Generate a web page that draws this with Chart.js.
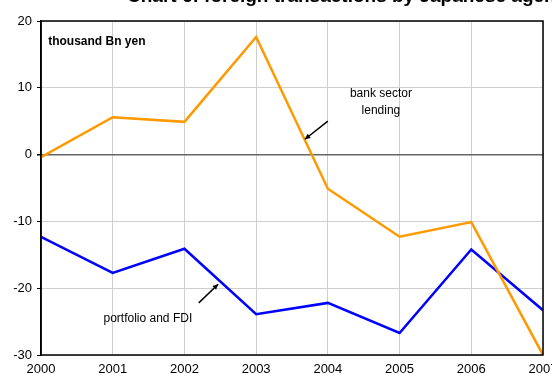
<!DOCTYPE html>
<html>
<head>
<meta charset="utf-8">
<script src="https://cdn.jsdelivr.net/npm/chart.js@4"></script>
<style>
  html, body { margin: 0; padding: 0; background: #fff; overflow: hidden; width: 552px; height: 374px; }
  #wrap { position: absolute; left: 0; top: -14px; width: 580px; height: 400px; }
</style>
</head>
<body>
<div id="wrap"><canvas id="chart"></canvas></div>
<script>
// values, thousand Bn yen
const years = [2000, 2001, 2002, 2003, 2004, 2005, 2006, 2007];
const bankLending = [-0.4, 5.6, 4.9, 17.6, -5.1, -12.3, -10.1, -30.0];
const portfolioFDI = [-12.3, -17.7, -14.1, -23.9, -22.2, -26.7, -14.2, -23.3];
const yTicks = [20, 10, 0, -10, -20, -30];

const FONT = '"Liberation Sans", Arial, sans-serif';

// text notes and arrows, placed in data units
const notes = [
  { text: 'thousand Bn yen', x: 2000.1, y: 16.9, bold: true, align: 'left' },
  { text: 'bank sector', x: 2004.74, y: 9.1, align: 'center' },
  { text: 'lending', x: 2004.74, y: 6.5, align: 'center' },
  { text: 'portfolio and FDI', x: 2001.49, y: -24.5, align: 'center' }
];
const arrows = [
  { from: [2004.0, 5.0], to: [2003.68, 2.3] },
  { from: [2002.2, -22.2], to: [2002.47, -19.4] }
];

const extras = {
  id: 'extras',
  afterDraw(chart) {
    const ctx = chart.ctx;
    const a = chart.chartArea;
    const xs = chart.scales.x, ys = chart.scales.y;
    ctx.save();
    // box round plot area
    ctx.strokeStyle = '#000';
    ctx.lineWidth = 1.5;
    ctx.strokeRect(a.left, a.top, a.right - a.left, a.bottom - a.top);

    // title, cut off at top of page
    ctx.fillStyle = '#000';
    ctx.font = 'bold 19px ' + FONT;
    ctx.textAlign = 'left';
    ctx.textBaseline = 'alphabetic';
    ctx.fillText('Chart 6: foreign transactions by Japanese agents', 127, 15.5);

    ctx.textBaseline = 'middle';
    notes.forEach(n => {
      ctx.font = (n.bold ? 'bold ' : '') + '12px ' + FONT;
      ctx.textAlign = n.align;
      ctx.fillText(n.text, xs.getPixelForValue(n.x), ys.getPixelForValue(n.y));
    });

    ctx.strokeStyle = '#000';
    ctx.lineWidth = 1.5;
    arrows.forEach(ar => {
      const x1 = xs.getPixelForValue(ar.from[0]), y1 = ys.getPixelForValue(ar.from[1]);
      const x2 = xs.getPixelForValue(ar.to[0]), y2 = ys.getPixelForValue(ar.to[1]);
      ctx.beginPath();
      ctx.moveTo(x1, y1);
      ctx.lineTo(x2, y2);
      ctx.stroke();
      const ang = Math.atan2(y2 - y1, x2 - x1);
      ctx.beginPath();
      ctx.moveTo(x2, y2);
      ctx.lineTo(x2 - 6 * Math.cos(ang - 0.45), y2 - 6 * Math.sin(ang - 0.45));
      ctx.lineTo(x2 - 6 * Math.cos(ang + 0.45), y2 - 6 * Math.sin(ang + 0.45));
      ctx.closePath();
      ctx.fillStyle = '#000';
      ctx.fill();
    });
    ctx.restore();
  }
};

new Chart(document.getElementById('chart'), {
  type: 'line',
  data: {
    datasets: [
      {
        label: 'bank sector lending',
        data: years.map((y, i) => ({ x: y, y: bankLending[i] })),
        borderColor: '#FF9900',
        borderWidth: 2.5,
        pointRadius: 0,
        tension: 0
      },
      {
        label: 'portfolio and FDI',
        data: years.map((y, i) => ({ x: y, y: portfolioFDI[i] })),
        borderColor: '#0000FF',
        borderWidth: 2.5,
        pointRadius: 0,
        tension: 0
      }
    ]
  },
  options: {
    responsive: true,
    maintainAspectRatio: false,
    animation: false,
    layout: { padding: { top: 35, right: 37, left: 0, bottom: 0 } },
    plugins: {
      legend: { display: false },
      tooltip: { enabled: false }
    },
    scales: {
      x: {
        type: 'linear',
        min: years[0],
        max: years[years.length - 1],
        afterBuildTicks: s => { s.ticks = years.map(v => ({ value: v })); },
        afterFit: s => { s.height = 31; },
        grid: { color: '#cfcfcf', lineWidth: 1, drawTicks: false },
        border: { display: false },
        ticks: {
          padding: 7,
          color: '#000',
          font: { family: FONT, size: 13 },
          maxRotation: 0,
          callback: v => String(v)
        }
      },
      y: {
        min: -30,
        max: 20,
        afterBuildTicks: s => { s.ticks = yTicks.map(v => ({ value: v })); },
        afterFit: s => { s.width = 41; },
        grid: {
          color: c => c.tick && c.tick.value === 0 ? '#666' : '#cfcfcf',
          lineWidth: c => c.tick && c.tick.value === 0 ? 1.5 : 1,
          tickLength: 4,
          tickColor: '#000'
        },
        border: { color: '#000', width: 1.5 },
        ticks: {
          padding: 5,
          color: '#000',
          font: { family: FONT, size: 13 }
        }
      }
    }
  },
  plugins: [extras]
});
</script>
</body>
</html>
